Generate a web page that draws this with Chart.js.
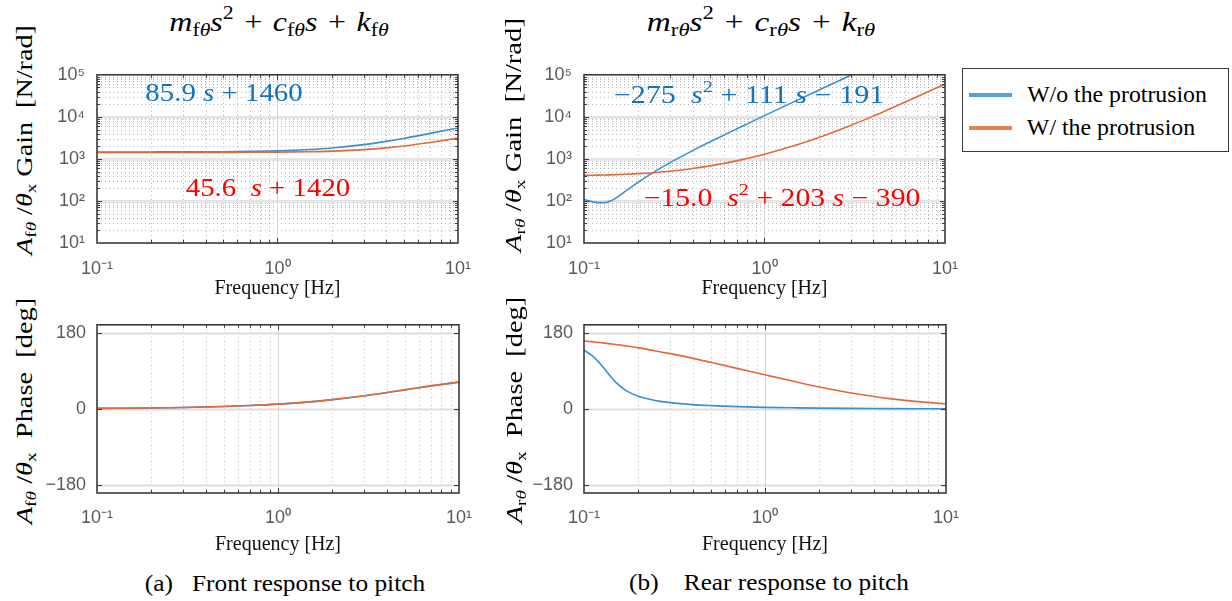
<!DOCTYPE html>
<html>
<head>
<meta charset="utf-8">
<title>Front and rear response to pitch</title>
<script src="https://cdn.jsdelivr.net/npm/chart.js@4.4.1/dist/chart.umd.min.js"></script>
<style>
  html, body { margin:0; padding:0; background:#ffffff; }
  body { position:relative; width:1232px; height:601px; overflow:hidden; font-family:'Liberation Serif','Times New Roman',serif; color:#000; }
  canvas { position:absolute; }
  .t { position:absolute; white-space:nowrap; line-height:1; transform-origin:50% 50%; }
  .t sub, .t sup { font-size:68%; line-height:0; }
  .t sub { vertical-align:-0.3em; }
  .t sup { vertical-align:0.6em; }
  .ttl { word-spacing:0.08em; }
  #legend { position:absolute; left:962px; top:68px; width:267px; height:84px; box-sizing:border-box; border:1.5px solid #3a3a3a; background:#fff; }
  .lg-line { position:absolute; left:6px; width:43px; height:4px; }
</style>
</head>
<body>
<canvas id="gainA" width="446" height="250" style="left:40px;top:52px"></canvas>
<canvas id="phaseA" width="446" height="262" style="left:40px;top:303px"></canvas>
<canvas id="gainB" width="446" height="250" style="left:527px;top:52px"></canvas>
<canvas id="phaseB" width="446" height="262" style="left:527px;top:303px"></canvas>

<div class="t ttl" data-cx="279" data-cy="22" data-w="219" style="font-size:27px"><i>m</i><sub>f<i>θ</i></sub><i>s</i><sup>2</sup> + <i>c</i><sub>f<i>θ</i></sub><i>s</i> + <i>k</i><sub>f<i>θ</i></sub></div>
<div class="t ttl" data-cx="761" data-cy="22" data-w="228" style="font-size:27px"><i>m</i><sub>r<i>θ</i></sub><i>s</i><sup>2</sup> + <i>c</i><sub>r<i>θ</i></sub><i>s</i> + <i>k</i><sub>r<i>θ</i></sub></div>

<div class="t" data-cx="24" data-cy="140" data-w="230" data-rot="1" style="font-size:23px"><i>A</i><sub>f<i>θ</i></sub> /<i>θ</i><sub>x</sub> Gain&nbsp; [N/rad]</div>
<div class="t" data-cx="24" data-cy="411" data-w="226" data-rot="1" style="font-size:23px"><i>A</i><sub>f<i>θ</i></sub> /<i>θ</i><sub>x</sub>&nbsp; Phase&nbsp; [deg]</div>
<div class="t" data-cx="513" data-cy="135" data-w="234" data-rot="1" style="font-size:23px"><i>A</i><sub>r<i>θ</i></sub> /<i>θ</i><sub>x</sub> Gain&nbsp; [N/rad]</div>
<div class="t" data-cx="514" data-cy="410" data-w="226" data-rot="1" style="font-size:23px"><i>A</i><sub>r<i>θ</i></sub> /<i>θ</i><sub>x</sub>&nbsp; Phase&nbsp; [deg]</div>

<div class="t" data-cx="223.5" data-cy="92" data-w="157" style="font-size:25px;color:#1272c0">85.9 <i>s</i> + 1460</div>
<div class="t" data-cx="267.5" data-cy="187" data-w="165" style="font-size:25px;color:#ff0000">45.6&nbsp; <i>s</i> + 1420</div>
<div class="t" data-cx="748.5" data-cy="94" data-w="271" style="font-size:25px;color:#1272c0">−275&nbsp; <i>s</i><sup>2</sup> + 111 <i>s</i> − 191</div>
<div class="t" data-cx="781.5" data-cy="197" data-w="277" style="font-size:25px;color:#ff0000">−15.0&nbsp; <i>s</i><sup>2</sup> + 203 <i>s</i> − 390</div>

<div class="t" data-cx="285" data-cy="583" data-w="280" style="font-size:23px">(a)&nbsp;&nbsp; Front response to pitch</div>
<div class="t" data-cx="769" data-cy="582" data-w="280" style="font-size:23px">(b)&nbsp;&nbsp;&nbsp; Rear response to pitch</div>

<div id="legend"></div>

<script>
// ---------------- data ----------------
const seriesLabels = ['W/o the protrusion', 'W/ the protrusion'];
const seriesColors = ['#3a8fd4', '#e2693a'];

// (a) front response to pitch
const freqA = [0.1, 0.2, 0.3, 0.5, 0.7, 1, 1.5, 2, 3, 4, 5, 7, 10];
const gainA_without = [1460, 1465, 1470, 1485, 1510, 1555, 1670, 1815, 2180, 2610, 3070, 4050, 5450];
const gainA_with    = [1420, 1420, 1425, 1430, 1435, 1450, 1485, 1530, 1660, 1825, 2020, 2460, 3120];
const phaseA_without = [1.2, 2.3, 3.5, 5.8, 8.1, 11.4, 16.8, 22.0, 31.2, 38.9, 45.3, 54.7, 63.6];
const phaseA_with    = [1.2, 2.3, 3.5, 5.8, 8.1, 11.4, 16.8, 22.0, 31.2, 38.9, 45.3, 54.7, 63.6];

// (b) rear response to pitch
const freqB = [0.1, 0.11, 0.12, 0.13, 0.14, 0.15, 0.17, 0.2, 0.25, 0.3, 0.4, 0.5, 0.7, 1, 1.5, 2, 3, 4, 5, 7, 10];
const gainB_without = [108, 97, 91, 91, 100, 117, 171, 280, 518, 814, 1570, 2550, 5150, 10700, 24300, 43300, 97500, 173500, 271000, 532000, 1086000];
const gainB_with    = [405, 408, 411, 415, 418, 423, 431, 446, 476, 510, 590, 682, 898, 1290, 2130, 3230, 6250, 10400, 15800, 30000, 60200];
const phaseB_without = [139.8, 127.8, 112.5, 94.7, 77.4, 63.0, 44.0, 29.8, 19.7, 14.9, 10.2, 7.9, 5.4, 3.7, 2.5, 1.85, 1.23, 0.92, 0.74, 0.53, 0.37];
const phaseB_with    = [161.6, 159.9, 158.1, 156.4, 154.7, 153.1, 149.8, 145.2, 137.9, 131.4, 120.1, 110.8, 96.4, 81.0, 63.8, 52.2, 37.8, 29.3, 23.9, 17.3, 12.2];

// axes
const xTickValues = [0.1, 1, 10];
const xTickLabels = ['10⁻¹', '10⁰', '10¹'];
const gainTickValues = [10, 100, 1000, 10000, 100000];
const gainTickLabels = ['10¹', '10²', '10³', '10⁴', '10⁵'];
const phaseTickValues = [-180, 0, 180];
const phaseTickLabels = ['−180', '0', '180'];
const xTitle = 'Frequency [Hz]';

// ---------------- helpers ----------------
function minorsBetween(majors) {
  const out = [];
  for (let i = 0; i < majors.length - 1; i++) for (let k = 2; k <= 9; k++) out.push(k * majors[i]);
  return out;
}

const framePlugin = {
  id: 'frame',
  beforeDatasetsDraw(chart, _a, o) {
    const { ctx, chartArea: a, scales: { x, y } } = chart;
    ctx.save();
    ctx.beginPath(); ctx.rect(a.left, a.top, a.right - a.left, a.bottom - a.top); ctx.clip();
    const vline = (v, s) => { const p = Math.round(s.getPixelForValue(v)) + 0.5; ctx.beginPath(); ctx.moveTo(p, a.top); ctx.lineTo(p, a.bottom); ctx.stroke(); };
    const hline = (v, s) => { const p = Math.round(s.getPixelForValue(v)) + 0.5; ctx.beginPath(); ctx.moveTo(a.left, p); ctx.lineTo(a.right, p); ctx.stroke(); };
    // minor dotted grid
    ctx.setLineDash([1, 3]);
    ctx.strokeStyle = 'rgba(90,90,90,0.45)';
    ctx.lineWidth = 1;
    o.xMinor.forEach(v => vline(v, x));
    o.yMinor.forEach(v => hline(v, y));
    ctx.setLineDash([]);
    // major grid
    ctx.strokeStyle = o.majorColor; ctx.lineWidth = o.majorWidth;
    o.yMajor.forEach(v => hline(v, y));
    ctx.strokeStyle = '#d4d4d4'; ctx.lineWidth = 1;
    o.xMajor.forEach(v => vline(v, x));
    ctx.restore();
  },
  afterDatasetsDraw(chart, _a, o) {
    const { ctx, chartArea: a, scales: { x, y } } = chart;
    ctx.save();
    ctx.strokeStyle = '#3c3c3c'; ctx.lineWidth = 1;
    const tx = (v, len) => { const p = Math.round(x.getPixelForValue(v)) + 0.5; ctx.beginPath(); ctx.moveTo(p, a.bottom); ctx.lineTo(p, a.bottom - len); ctx.moveTo(p, a.top); ctx.lineTo(p, a.top + len); ctx.stroke(); };
    const ty = (v, len) => { const p = Math.round(y.getPixelForValue(v)) + 0.5; ctx.beginPath(); ctx.moveTo(a.left, p); ctx.lineTo(a.left + len, p); ctx.moveTo(a.right, p); ctx.lineTo(a.right - len, p); ctx.stroke(); };
    o.xMinor.forEach(v => tx(v, 3));
    o.xMajor.forEach(v => tx(v, 5));
    o.yMinor.forEach(v => ty(v, 3));
    o.yMajor.forEach(v => ty(v, 5));
    ctx.lineWidth = 1.6; ctx.strokeStyle = '#3a3a3a';
    ctx.strokeRect(a.left, a.top, a.right - a.left, a.bottom - a.top);
    ctx.restore();
  }
};

function series(freq, vals, idx) {
  return {
    label: seriesLabels[idx],
    data: freq.map((f, i) => ({ x: f, y: vals[i] })),
    borderColor: seriesColors[idx],
    backgroundColor: seriesColors[idx],
    borderWidth: 1.6,
    pointRadius: 0,
    cubicInterpolationMode: 'monotone',
    fill: false,
    order: idx === 0 ? 2 : 1
  };
}

function makeChart(id, datasets, isGain, layout) {
  const yTicks = isGain ? gainTickValues : phaseTickValues;
  const yLabels = isGain ? gainTickLabels : phaseTickLabels;
  const yScale = isGain
    ? { type: 'logarithmic', min: 10, max: 100000 }
    : { type: 'linear', min: -200, max: 200 };
  return new Chart(document.getElementById(id), {
    type: 'line',
    data: { datasets },
    options: {
      responsive: false,
      animation: false,
      devicePixelRatio: 1,
      layout: { padding: { top: 10, right: 20, left: 0, bottom: 0 } },
      plugins: {
        legend: { display: false },
        tooltip: { enabled: false },
        frame: {
          xMajor: [1],
          xMinor: minorsBetween(xTickValues),
          yMajor: isGain ? gainTickValues.slice(1, -1) : phaseTickValues,
          yMinor: isGain ? minorsBetween(gainTickValues) : [],
          majorColor: isGain ? '#e5e5e5' : '#dedede',
          majorWidth: isGain ? 3 : 2
        }
      },
      scales: {
        x: {
          type: 'logarithmic', min: 0.1, max: 10,
          afterBuildTicks: s => { s.ticks = xTickValues.map(v => ({ value: v })); },
          afterFit: s => { s.height = layout.xH; },
          grid: { display: false, drawTicks: false },
          border: { display: false },
          ticks: { autoSkip: false, maxRotation: 0, padding: layout.xPad, color: '#5a5a5a',
                   font: { family: "'Liberation Sans', Arial, sans-serif", size: 18 },
                   callback: (v, i) => xTickLabels[i] },
          title: { display: true, text: xTitle, color: '#111',
                   font: { family: "'Liberation Serif', 'Times New Roman', serif", size: 20 },
                   padding: { top: 0, bottom: layout.titlePad } }
        },
        y: Object.assign(yScale, {
          afterBuildTicks: s => { s.ticks = yTicks.map(v => ({ value: v })); },
          afterFit: s => { s.width = 57; },
          grid: { display: false, drawTicks: false },
          border: { display: false },
          ticks: { autoSkip: false, padding: layout.yPad, color: '#5a5a5a',
                   font: { family: "'Liberation Sans', Arial, sans-serif", size: 18 },
                   callback: (v, i) => yLabels[i] }
        })
      }
    },
    plugins: [framePlugin]
  });
}

// ---------------- text placement ----------------
function placeTexts() {
  document.querySelectorAll('.t').forEach(el => {
    const cx = +el.dataset.cx, cy = +el.dataset.cy, w = +el.dataset.w;
    el.style.left = cx + 'px';
    el.style.top = cy + 'px';
    const k = w ? w / el.offsetWidth : 1;
    el.style.transform = 'translate(-50%,-50%)' + (el.dataset.rot ? ' rotate(-90deg)' : '') + ' scaleX(' + k.toFixed(4) + ')';
  });
}

// legend built from the series
(function buildLegend() {
  const lg = document.getElementById('legend');
  const rows = [{ cy: 26, cxAbs: 1117, w: 180 }, { cy: 59, cxAbs: 1111, w: 168 }];
  seriesLabels.forEach((lab, i) => {
    const ln = document.createElement('div');
    ln.className = 'lg-line';
    ln.style.top = (rows[i].cy - 2) + 'px';
    ln.style.background = seriesColors[i];
    ln.style.opacity = '0.85';
    lg.appendChild(ln);
    const tx = document.createElement('div');
    tx.className = 't';
    tx.textContent = lab;
    tx.style.fontSize = '23px';
    tx.dataset.cx = rows[i].cxAbs;
    tx.dataset.cy = 68 + rows[i].cy;
    tx.dataset.w = rows[i].w;
    document.body.appendChild(tx);
  });
})();

placeTexts();
if (document.fonts && document.fonts.ready) document.fonts.ready.then(placeTexts);

const layoutGain = { xH: 59, xPad: 15, yPad: 12, titlePad: 1 };
const layoutPhase = { xH: 72, xPad: 14, yPad: 11, titlePad: 8 };

makeChart('gainA', [series(freqA, gainA_without, 0), series(freqA, gainA_with, 1)], true, layoutGain);
makeChart('phaseA', [series(freqA, phaseA_without, 0), series(freqA, phaseA_with, 1)], false, layoutPhase);
makeChart('gainB', [series(freqB, gainB_without, 0), series(freqB, gainB_with, 1)], true, layoutGain);
makeChart('phaseB', [series(freqB, phaseB_without, 0), series(freqB, phaseB_with, 1)], false, layoutPhase);
</script>
</body>
</html>
